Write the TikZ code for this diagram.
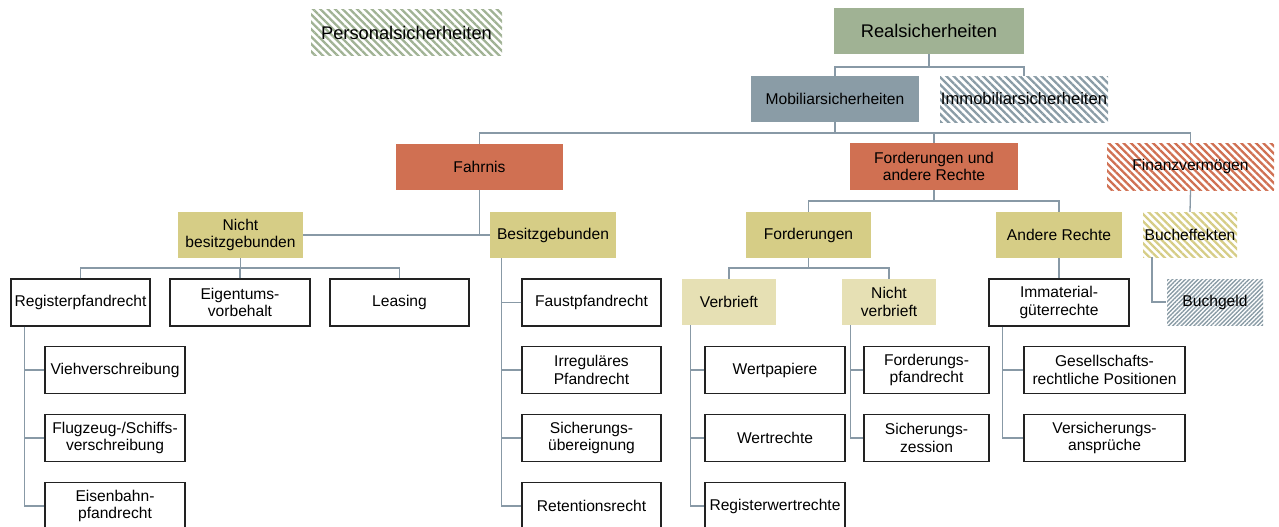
\documentclass[tikz,border=0pt]{standalone}
\usepackage{fontspec}
\setmainfont{Liberation Sans}
\usetikzlibrary{patterns.meta}
\definecolor{sage}{HTML}{A0B294}
\definecolor{slate}{HTML}{8A9CA6}
\definecolor{rust}{HTML}{D07052}
\definecolor{olive}{HTML}{D6CD86}
\definecolor{paleolive}{HTML}{E6E0B4}
\definecolor{linecol}{HTML}{8899A6}
\definecolor{boxline}{HTML}{222222}
\begin{document}
\begin{tikzpicture}[x=1pt,y=-1pt,
  box/.style={minimum height=46pt, inner sep=0pt, align=center,
    font=\fontsize{15.6}{17.3}\selectfont, text=black},
  filled/.style={box, fill=#1},
  hatch/.style={box, pattern={Lines[angle=-45,distance=5.2pt,line width=2.3pt]}, pattern color=#1},
  finehatch/.style={box, pattern={Lines[angle=45,distance=3pt,line width=1.4pt]}, pattern color=#1},
  leaf/.style={box, fill=white, draw=boxline, line width=1.3pt, minimum height=47pt},
  conn/.style={draw=linecol, line width=1.3pt}]
\useasboundingbox (0,0) rectangle (1279,527);

% top level
\node[filled=sage, minimum width=190pt, font=\fontsize{18.3}{20}\selectfont] (real) at (929,31) {Realsicherheiten};
\node[hatch=sage, minimum width=191pt, font=\fontsize{18.3}{20}\selectfont] (personal) at (406.5,33) {Personalsicherheiten};

% second level
\node[filled=slate, minimum width=168pt] (mobil) at (835,99) {Mobiliarsicherheiten};
\node[hatch=slate, minimum width=168pt, font=\fontsize{16.6}{19}\selectfont] (immobil) at (1024,99) {Immobiliarsicherheiten};

% third level
\node[filled=rust, minimum width=167pt] (fahrnis) at (479.5,167) {Fahrnis};
\node[filled=rust, minimum width=168pt, minimum height=47pt] (fordand) at (934,166.5) {Forderungen und\\andere Rechte};
\node[hatch=rust, minimum width=167pt, minimum height=47pt] (finanz) at (1190.5,166.5) {Finanzvermögen};

% fourth level
\node[filled=olive, minimum width=125pt] (nichtbes) at (240.5,235) {Nicht\\besitzgebunden};
\node[filled=olive, minimum width=126pt] (besitz) at (553,235) {Besitzgebunden};
\node[filled=olive, minimum width=125pt] (forder) at (808.5,235) {Forderungen};
\node[filled=olive, minimum width=126pt] (andere) at (1059,235) {Andere Rechte};
\node[hatch=olive, minimum width=94pt, minimum height=45pt] (buchef) at (1190,234.5) {Bucheffekten};

% fifth level
\node[filled=paleolive, minimum width=94pt] (verbrieft) at (729,302) {Verbrieft};
\node[filled=paleolive, minimum width=94pt] (nverbrieft) at (889,302) {Nicht\\verbrieft};
\node[finehatch=slate, minimum width=96pt] (buchgeld) at (1215,302) {Buchgeld};
\node[leaf, minimum width=139pt] (regpf) at (80.5,302.5) {Registerpfandrecht};
\node[leaf, minimum width=140pt] (eigentum) at (240,302.5) {Eigentums-\\vorbehalt};
\node[leaf, minimum width=139pt] (leasing) at (399.5,302.5) {Leasing};
\node[leaf, minimum width=139pt] (faust) at (591.5,302.5) {Faustpfandrecht};
\node[leaf, minimum width=140pt] (immat) at (1059,302.5) {Immaterial-\\güterrechte};

% lower rows
\node[leaf, minimum width=140pt] (vieh) at (115,370) {Viehverschreibung};
\node[leaf, minimum width=140pt] (flug) at (115,438) {Flugzeug-/Schiffs-\\verschreibung};
\node[leaf, minimum width=140pt] (eisen) at (115,506) {Eisenbahn-\\pfandrecht};

\node[leaf, minimum width=139pt] (irreg) at (591.5,370) {Irreguläres\\Pfandrecht};
\node[leaf, minimum width=139pt] (sichueb) at (591.5,438) {Sicherungs-\\übereignung};
\node[leaf, minimum width=139pt] (retent) at (591.5,506) {Retentionsrecht};

\node[leaf, minimum width=140pt] (wertpap) at (775,370) {Wertpapiere};
\node[leaf, minimum width=140pt] (wertr) at (775,438) {Wertrechte};
\node[leaf, minimum width=140pt] (regwert) at (775,506) {Registerwertrechte};

\node[leaf, minimum width=125pt] (fordpf) at (926.5,370) {Forderungs-\\pfandrecht};
\node[leaf, minimum width=125pt] (sichzess) at (926.5,438) {Sicherungs-\\zession};

\node[leaf, minimum width=161pt] (gesell) at (1104.5,370) {Gesellschafts-\\rechtliche Positionen};
\node[leaf, minimum width=161pt] (versich) at (1104.5,438) {Versicherungs-\\ansprüche};

% bar levels
\coordinate (b1) at (0,67);
\coordinate (b2) at (0,133);
\coordinate (b3) at (0,201);
\coordinate (b4) at (0,268);

% connectors
\draw[conn] (real.south) -- (real.south |- b1);
\draw[conn] (mobil.north) -- (mobil.north |- b1) -| (immobil.north);

\draw[conn] (mobil.south) -- (mobil.south |- b2);
\draw[conn] (fahrnis.north) |- (finanz.north |- b2) -- (finanz.north);
\draw[conn] (fordand.north) -- (fordand.north |- b2);

\draw[conn] (nichtbes.east) -- (besitz.west);
\draw[conn] (fahrnis.south) -- (fahrnis.south |- besitz.west);

\draw[conn] (fordand.south) -- (fordand.south |- b3);
\draw[conn] (forder.north) -- (forder.north |- b3) -| (andere.north);
\draw[conn] (finanz.south) -- (buchef.north);

\draw[conn] (nichtbes.south) -- (nichtbes.south |- b4);
\draw[conn] (regpf.north) -- (regpf.north |- b4) -| (leasing.north);
\draw[conn] (eigentum.north) -- (eigentum.north |- b4);

\draw[conn] (forder.south) -- (forder.south |- b4);
\draw[conn] (verbrieft.north) -- (verbrieft.north |- b4) -| (nverbrieft.north);

\draw[conn] (andere.south) -- (immat.north);
\draw[conn] ([xshift=-38pt]buchef.south) |- (buchgeld.west);

% side trees
\coordinate (rx) at ([xshift=14pt]regpf.south west);
\draw[conn] (rx) |- (eisen.west);
\draw[conn] (vieh.west) -- (vieh.west -| rx);
\draw[conn] (flug.west) -- (flug.west -| rx);

\coordinate (bx) at ([xshift=12pt]besitz.south west);
\draw[conn] (bx) |- (retent.west);
\draw[conn] (faust.west) -- (faust.west -| bx);
\draw[conn] (irreg.west) -- (irreg.west -| bx);
\draw[conn] (sichueb.west) -- (sichueb.west -| bx);

\coordinate (vx) at ([xshift=9pt]verbrieft.south west);
\draw[conn] (vx) |- (regwert.west);
\draw[conn] (wertpap.west) -- (wertpap.west -| vx);
\draw[conn] (wertr.west) -- (wertr.west -| vx);

\coordinate (nx) at ([xshift=9pt]nverbrieft.south west);
\draw[conn] (nx) |- (sichzess.west);
\draw[conn] (fordpf.west) -- (fordpf.west -| nx);

\coordinate (ix) at ([xshift=14pt]immat.south west);
\draw[conn] (ix) |- (versich.west);
\draw[conn] (gesell.west) -- (gesell.west -| ix);
\end{tikzpicture}
\end{document}
